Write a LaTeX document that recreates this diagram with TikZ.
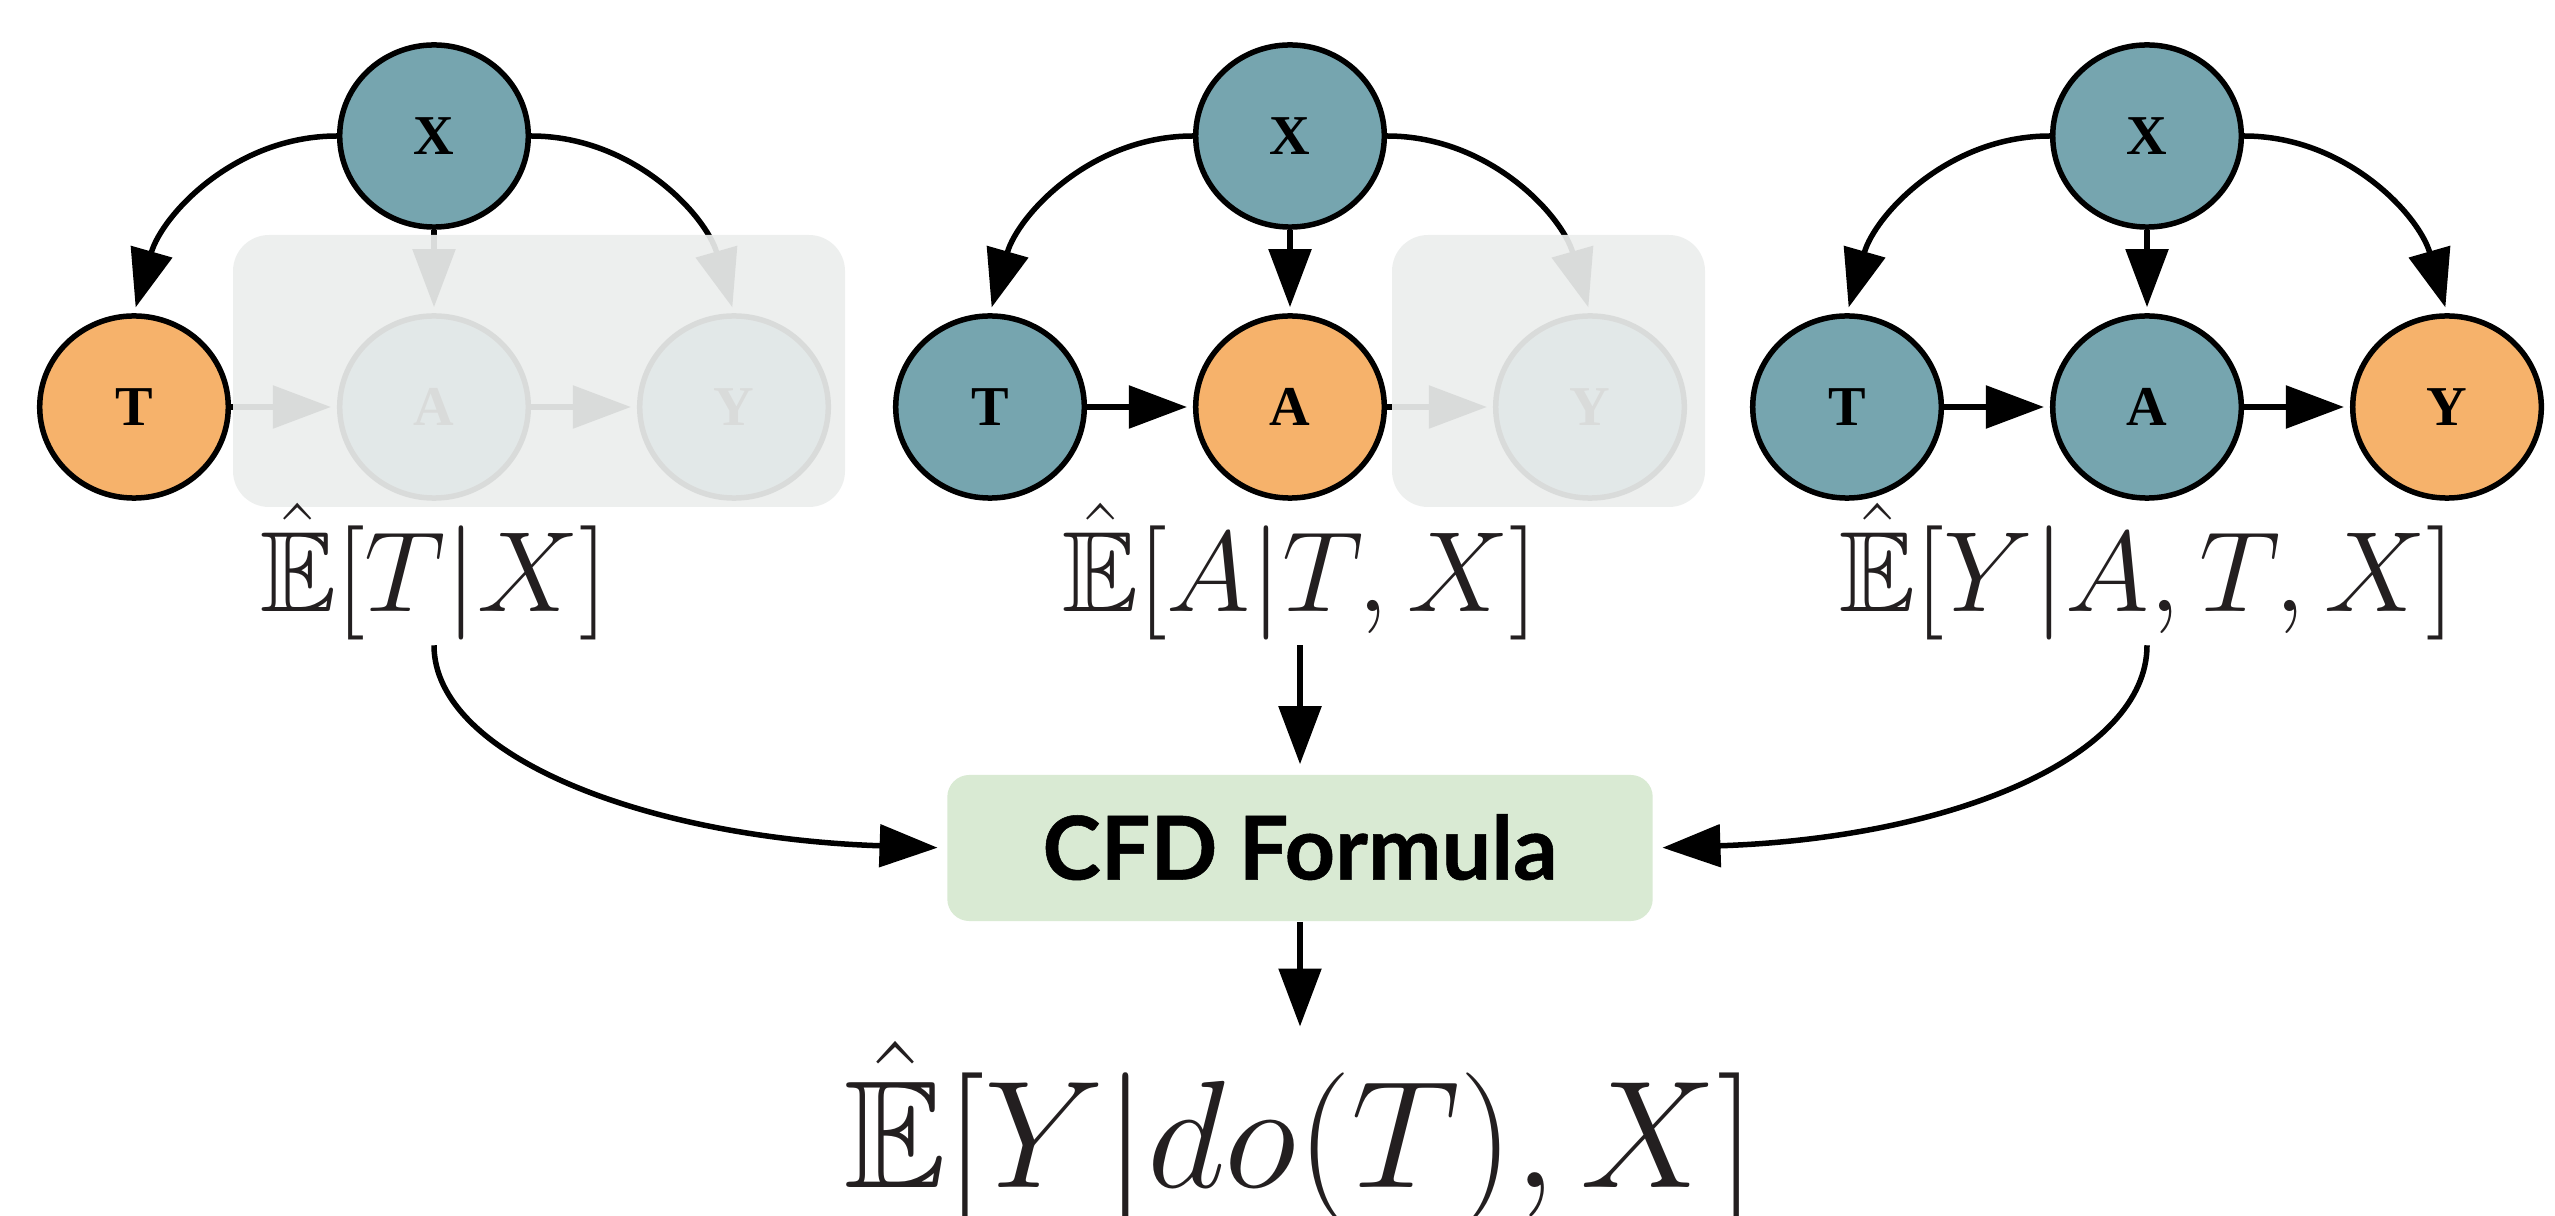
\RequirePackage{fix-cm}
\documentclass[tikz,border=0pt]{standalone}
\usepackage{amssymb}
\usepackage{fontspec}
\newfontfamily\nodefont{Liberation Serif}
\newfontfamily\boxfont{Lato}[BoldFeatures={FakeBold=0.6}]
\usetikzlibrary{arrows.meta,shapes.geometric}
\definecolor{nodeteal}{HTML}{76A5AF}
\definecolor{nodeorange}{HTML}{F6B26B}
\definecolor{boxgreen}{HTML}{D9EAD3}
\definecolor{ghost}{RGB}{236,238,237}
\definecolor{mathink}{RGB}{35,31,32}
\begin{document}
\begin{tikzpicture}[x=0.01cm,y=-0.01cm,
  var/.style={ellipse, draw=black, line width=0.055cm, minimum width=1.885cm, minimum height=1.82cm, inner sep=0pt,
    font=\nodefont\bfseries\fontsize{16}{19}\selectfont},
  obs/.style={var, fill=nodeteal},
  tgt/.style={var, fill=nodeorange},
  edge/.style={-{Triangle[length=0.58cm,width=0.42cm]}, line width=0.055cm, shorten >=0.06cm},
  ghostbox/.style={fill=ghost, fill opacity=0.92, draw=none, rounded corners=0.36cm},
  est/.style={anchor=base, inner sep=0pt, text=mathink, font=\fontsize{32.5}{39}\selectfont},
]
\useasboundingbox (0,0) rectangle (2555,1216);

% ---------- panel 1 ----------
\node[obs] (x1) at (434,136) {X};
\node[tgt] (t1) at (134,407) {T};
\node[obs] (a1) at (434,407) {A};
\node[obs] (y1) at (734,407) {Y};
\draw[edge] (x1.west) .. controls +(-102,0) and +(28,-98) .. (t1.north);
\draw[edge] (x1.east) .. controls +(102,0) and +(-28,-98) .. (y1.north);
\draw[edge] (x1) -- (a1);
\draw[edge] (t1) -- (a1);
\draw[edge] (a1) -- (y1);
\fill[ghostbox] (233,235) rectangle (845,507);

% ---------- panel 2 ----------
\node[obs] (x2) at (1290,136) {X};
\node[obs] (t2) at (990,407) {T};
\node[tgt] (a2) at (1290,407) {A};
\node[obs] (y2) at (1590,407) {Y};
\draw[edge] (x2.west) .. controls +(-102,0) and +(28,-98) .. (t2.north);
\draw[edge] (x2.east) .. controls +(102,0) and +(-28,-98) .. (y2.north);
\draw[edge] (x2) -- (a2);
\draw[edge] (t2) -- (a2);
\draw[edge] (a2) -- (y2);
\fill[ghostbox] (1392,235) rectangle (1705,507);

% ---------- panel 3 ----------
\node[obs] (x3) at (2147,136) {X};
\node[obs] (t3) at (1847,407) {T};
\node[obs] (a3) at (2147,407) {A};
\node[tgt] (y3) at (2447,407) {Y};
\draw[edge] (x3.west) .. controls +(-102,0) and +(28,-98) .. (t3.north);
\draw[edge] (x3.east) .. controls +(102,0) and +(-28,-98) .. (y3.north);
\draw[edge] (x3) -- (a3);
\draw[edge] (t3) -- (a3);
\draw[edge] (a3) -- (y3);

% ---------- estimators ----------
\node[est] (l1) at (434,612) {$\hat{\mathbb{E}}[T|X]$};
\node[est] (l2) at (1300,612) {$\hat{\mathbb{E}}[A|T,X]$};
\node[est] (l3) at (2147,612) {$\hat{\mathbb{E}}[Y|A,T,X]$};

\node[fill=boxgreen, rounded corners=0.22cm, minimum width=7.05cm, minimum height=1.46cm, inner sep=0pt,
  text height=0.63cm, text depth=0pt, font=\boxfont\bfseries\fontsize{25}{30}\selectfont] (cfd) at (1300,848) {CFD Formula};

\node[anchor=base, inner sep=0pt, text=mathink, font=\fontsize{43.5}{52}\selectfont] (fin) at (1300,1187) {$\hat{\mathbb{E}}[Y|do(T),X]$};

\draw[edge, shorten <=0.04cm, shorten >=0.10cm] (l2.south) -- (cfd.north);
\draw[edge, shorten >=0.14cm] (cfd.south) -- (fin.north);
\draw[edge, shorten <=0.04cm, shorten >=0.09cm] (l1.south) .. controls +(0,115) and +(-300,-10) .. (cfd.west);
\draw[edge, shorten <=0.04cm, shorten >=0.09cm] (l3.south) .. controls +(0,115) and +(300,-10) .. (cfd.east);
\end{tikzpicture}
\end{document}
